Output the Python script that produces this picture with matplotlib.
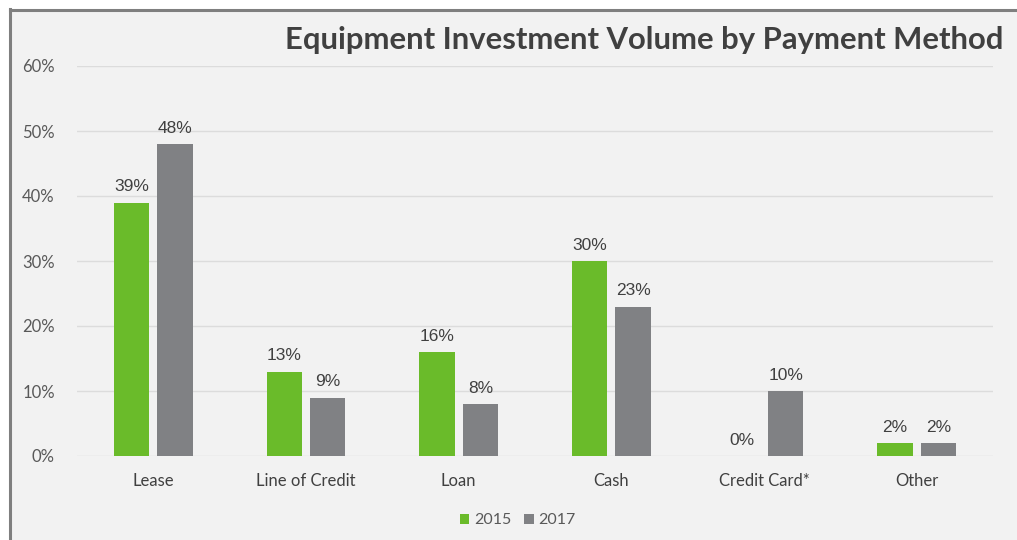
import matplotlib
matplotlib.use("Agg")
import matplotlib.pyplot as plt
import numpy as np
from matplotlib.lines import Line2D

# Données
categories = ["Lease", "Line of Credit", "Loan", "Cash", "Credit Card*", "Other"]
valeurs_2015 = [39, 13, 16, 30, 0, 2]
valeurs_2017 = [48, 9, 8, 23, 10, 2]
annees = ["2015", "2017"]
ticks_y = [0, 10, 20, 30, 40, 50, 60]

vert = "#6abb2a"
gris = "#808184"
fond = "#f2f2f2"

fig = plt.figure(figsize=(10.17, 5.40), dpi=100)
fig.patch.set_facecolor("white")

# Fond gris clair avec bordure gauche / haut
W, H = 1017, 540
fig.patches.append(plt.Rectangle((10 / W, 0), 1, 1 - 10 / H, transform=fig.transFigure,
                                 facecolor=fond, edgecolor="none", zorder=-10))
fig.lines.append(Line2D([9.5 / W, 9.5 / W], [0, 1 - 9 / H], transform=fig.transFigure,
                        color="#7f7f7f", lw=2.2))
fig.lines.append(Line2D([9.5 / W, 1], [1 - 9.5 / H, 1 - 9.5 / H], transform=fig.transFigure,
                        color="#7f7f7f", lw=2.2))

ax = fig.add_axes([77 / W, 84 / H, 916 / W, 390 / H])
ax.set_facecolor("none")

x = np.arange(len(categories))
largeur = 0.23
decalage = 0.142
b1 = ax.bar(x - decalage, valeurs_2015, largeur, color=vert, label=annees[0], zorder=3)
b2 = ax.bar(x + decalage, valeurs_2017, largeur, color=gris, label=annees[1], zorder=3)

# Étiquettes de valeur au-dessus des barres
for barres, vals in ((b1, valeurs_2015), (b2, valeurs_2017)):
    for b, v in zip(barres, vals):
        ax.annotate(f"{v}%", (b.get_x() + b.get_width() / 2, v),
                    textcoords="offset points", xytext=(0, 6), ha="center", va="bottom",
                    fontsize=12.5, color="#404040", family="Liberation Sans")

ax.set_xlim(-0.5, len(categories) - 0.5)
ax.set_ylim(0, 60)
ax.set_yticks(ticks_y)
ax.set_yticklabels([f"{t}%" for t in ticks_y], fontsize=12, color="#595959", family="Lato")
ax.set_xticks(x)
ax.set_xticklabels(categories, fontsize=12, color="#404040", family="Lato")
ax.tick_params(length=0, axis="both")
ax.tick_params(axis="y", pad=16)
ax.tick_params(axis="x", pad=12)
ax.grid(axis="y", color="#dcdcdc", lw=1, zorder=0)
for s in ax.spines.values():
    s.set_visible(False)

fig.text(1003 / W, 1 - 40 / H, "Equipment Investment Volume by Payment Method",
         ha="right", va="center", fontsize=22.3, fontweight="bold", color="#404040", family="Lato")

leg = ax.legend(loc="center", bbox_to_anchor=(0.481, -0.165), ncol=2, frameon=False,
                handlelength=0.6, handleheight=0.6, handletextpad=0.3, columnspacing=0.8,
                prop={"family": "Lato", "size": 11.5})
for t in leg.get_texts():
    t.set_color("#595959")

fig.savefig("out.png", dpi=100)
